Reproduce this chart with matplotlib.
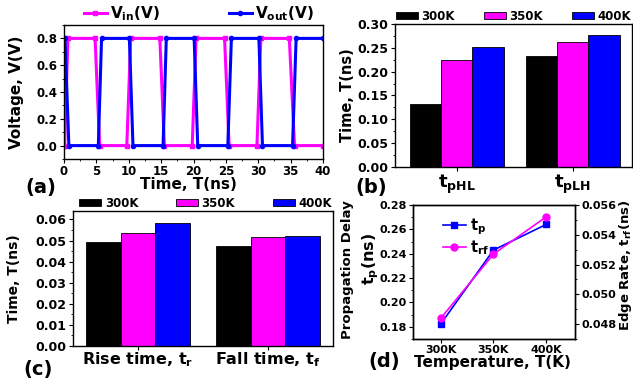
import numpy as np
import matplotlib
matplotlib.use("Agg")
import matplotlib.pyplot as plt
from matplotlib.ticker import MultipleLocator, FormatStrFormatter

plt.rcParams['font.family'] = ['DejaVu Sans']
plt.rcParams['font.weight'] = 'bold'
plt.rcParams['axes.labelweight'] = 'bold'
plt.rcParams['mathtext.default'] = 'bf'
plt.rcParams['xtick.direction'] = 'out'
plt.rcParams['ytick.direction'] = 'out'
plt.rcParams['xtick.major.size'] = 3
plt.rcParams['ytick.major.size'] = 3
plt.rcParams['xtick.minor.size'] = 1.5
plt.rcParams['ytick.minor.size'] = 1.5
plt.rcParams['axes.linewidth'] = 1.0

# ---- data ----
# (a) transient waveforms, breakpoints
t_in = [0, 0.1, 0.6, 4.8, 5.5, 9.7, 10.3, 14.8, 15.5, 19.8, 20.4, 24.8, 25.5,
        29.8, 30.4, 34.8, 35.6, 40]
v_in = [0, 0, 0.8, 0.8, 0, 0, 0.8, 0.8, 0, 0, 0.8, 0.8, 0, 0, 0.8, 0.8, 0, 0]
t_out = [0, 0.15, 0.75, 5.3, 5.8, 10.1, 10.65, 15.3, 15.8, 20.1, 20.65, 25.3,
         25.85, 30.1, 30.65, 35.3, 35.85, 40]
v_out = [0.8, 0.8, 0, 0, 0.8, 0.8, 0, 0, 0.8, 0.8, 0, 0, 0.8, 0.8, 0, 0, 0.8, 0.8]

temps = ['300K', '350K', '400K']
temp_colors = ['#000000', '#FF00FF', '#0000FF']

# (b) propagation delays
delay_groups = [r'$\mathbf{t_{pHL}}$', r'$\mathbf{t_{pLH}}$']
tpHL = [0.133, 0.225, 0.251]
tpLH = [0.233, 0.262, 0.277]

# (c) rise / fall times
edge_groups = [r'Rise time, t$_\mathbf{r}$', r'Fall time, t$_\mathbf{f}$']
t_rise = [0.0495, 0.0537, 0.0585]
t_fall = [0.0473, 0.0516, 0.0520]

# (d) averages vs temperature
tp_avg = [0.1825, 0.2430, 0.2640]
trf_avg = [0.0484, 0.0527, 0.0552]

W, H = 633, 383
fig = plt.figure(figsize=(W / 100, H / 100), dpi=100)


def rect(l, t, r, b):
    return [l / W, (H - b) / H, (r - l) / W, (b - t) / H]


# ================= (a) =================
axa = fig.add_axes(rect(64, 25, 323, 159))
axa.plot(t_in, v_in, color='#FF00FF', lw=2.2, marker='s', ms=3, label=r'V$_\mathbf{in}$(V)')
axa.plot(t_out, v_out, color='#0000FF', lw=2.2, marker='o', ms=3, label=r'V$_\mathbf{out}$(V)')
axa.set_xlim(0, 40)
axa.set_ylim(-0.1, 0.9)
axa.xaxis.set_major_locator(MultipleLocator(5))
axa.xaxis.set_minor_locator(MultipleLocator(2.5))
axa.yaxis.set_major_locator(MultipleLocator(0.2))
axa.yaxis.set_minor_locator(MultipleLocator(0.1))
axa.yaxis.set_major_formatter(FormatStrFormatter('%.1f'))
axa.tick_params(labelsize=8.5, pad=1.5)
axa.set_xlabel('Time, T(ns)', fontsize=11)
axa.xaxis.set_label_coords(0.479, -0.135)
axa.set_ylabel('Voltage, V(V)', fontsize=11)
axa.yaxis.set_label_coords(-0.155, 0.5)
axa.legend(loc='lower left', bbox_to_anchor=(0.07, 1.0, 0.9, 0.1), mode='expand', ncol=2,
           frameon=False, fontsize=11, handlelength=1.5, handletextpad=0.2,
           borderaxespad=0.1, borderpad=0.0)

# ================= (b) =================
axb = fig.add_axes(rect(395, 24, 632, 167))
xb = np.arange(1, len(delay_groups) + 1)
wb = 0.27
for i, name in enumerate(temps):
    axb.bar(xb + (i - 1) * wb, [tpHL[i], tpLH[i]], width=wb, color=temp_colors[i],
            edgecolor='black', linewidth=0.6, label=name)
axb.set_xlim(0.47, 2.51)
axb.set_ylim(0, 0.30)
axb.set_xticks(xb)
axb.set_xticklabels(delay_groups, fontsize=13)
axb.yaxis.set_major_locator(MultipleLocator(0.05))
axb.yaxis.set_minor_locator(MultipleLocator(0.025))
axb.yaxis.set_major_formatter(FormatStrFormatter('%.2f'))
axb.tick_params(axis='y', labelsize=9, pad=1.5)
axb.tick_params(axis='x', pad=1)
axb.set_ylabel('Time, T(ns)', fontsize=10.5)
axb.yaxis.set_label_coords(-0.17, 0.5)
axb.legend(loc='lower left', bbox_to_anchor=(0.0, 1.0, 1.0, 0.1), mode='expand', ncol=3,
           frameon=False, fontsize=8.5, handlelength=1.85, handleheight=0.6,
           handletextpad=0.3, borderaxespad=0.1, borderpad=0.0)

# ================= (c) =================
axc = fig.add_axes(rect(73, 211, 333, 346))
xc = np.arange(1, len(edge_groups) + 1)
wc = 0.267
for i, name in enumerate(temps):
    axc.bar(xc + (i - 1) * wc, [t_rise[i], t_fall[i]], width=wc, color=temp_colors[i],
            edgecolor='black', linewidth=0.6, label=name)
axc.set_xlim(0.5, 2.5)
axc.set_ylim(0, 0.064)
axc.set_xticks(xc)
axc.set_xticklabels(edge_groups, fontsize=11.5)
axc.yaxis.set_major_locator(MultipleLocator(0.01))
axc.yaxis.set_minor_locator(MultipleLocator(0.005))
axc.yaxis.set_major_formatter(FormatStrFormatter('%.2f'))
axc.tick_params(axis='y', labelsize=9, pad=1.5)
axc.tick_params(axis='x', pad=0)
axc.set_ylabel('Time, T(ns)', fontsize=10)
axc.yaxis.set_label_coords(-0.2, 0.5)
axc.legend(loc='lower left', bbox_to_anchor=(0.02, 1.0, 0.98, 0.1), mode='expand', ncol=3,
           frameon=False, fontsize=8.5, handlelength=1.85, handleheight=0.6,
           handletextpad=0.3, borderaxespad=0.1, borderpad=0.0)

# ================= (d) =================
axd = fig.add_axes(rect(413, 205, 575, 339))
xd = np.arange(len(temps))
ld1, = axd.plot(xd, tp_avg, color='#0000FF', lw=1.2, marker='s', ms=5, label=r't$_\mathbf{p}$')
axd.set_xlim(-0.53, 2.55)
axd.set_ylim(0.17, 0.28)
axd.set_xticks(xd)
axd.set_xticklabels(temps)
axd.yaxis.set_major_locator(MultipleLocator(0.02))
axd.yaxis.set_minor_locator(MultipleLocator(0.01))
axd.yaxis.set_major_formatter(FormatStrFormatter('%.2f'))
axd.tick_params(labelsize=8, pad=1.5)
axd.set_xlabel('Temperature, T(K)', fontsize=11)
axd.xaxis.set_label_coords(0.49, -0.12)
axd.set_ylabel(r't$_\mathbf{p}$(ns)', fontsize=11.5)
axd.yaxis.set_label_coords(-0.2, 0.6)

axd2 = axd.twinx()
ld2, = axd2.plot(xd, trf_avg, color='#FF00FF', lw=1.2, marker='o', ms=5, label=r't$_\mathbf{rf}$')
axd2.set_ylim(0.047, 0.056)
axd2.yaxis.set_major_locator(MultipleLocator(0.002))
axd2.yaxis.set_minor_locator(MultipleLocator(0.001))
axd2.yaxis.set_major_formatter(FormatStrFormatter('%.3f'))
axd2.tick_params(labelsize=8, pad=1.5)
axd2.legend(handles=[ld1, ld2], loc='upper left', bbox_to_anchor=(0.12, 0.99),
            frameon=False, fontsize=10.5, handlelength=1.6, handletextpad=0.3,
            labelspacing=0.05, borderpad=0.2)

fig.text(348 / W, 1 - 270 / H, 'Propagation Delay', rotation=90, fontsize=9.5,
         ha='center', va='center')
fig.text(625 / W, 1 - 265 / H, r'Edge Rate, t$_\mathbf{rf}$(ns)', rotation=90, fontsize=9.5,
         ha='center', va='center')

# panel labels
fig.text(25 / W, 1 - 188 / H, '(a)', fontsize=14, va='center')
fig.text(355 / W, 1 - 188 / H, '(b)', fontsize=14, va='center')
fig.text(23 / W, 1 - 369 / H, '(c)', fontsize=14, va='center')
fig.text(368 / W, 1 - 362 / H, '(d)', fontsize=14, va='center')

fig.savefig('out.png', dpi=100)
